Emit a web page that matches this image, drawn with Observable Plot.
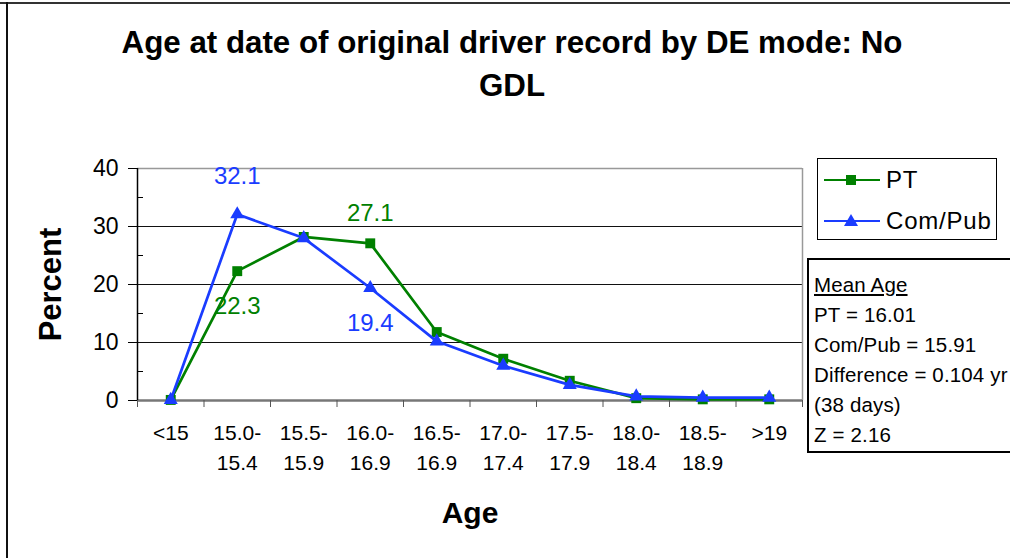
<!DOCTYPE html>
<html>
<head>
<meta charset="utf-8">
<script src="https://cdn.jsdelivr.net/npm/d3@7"></script>
<script src="https://cdn.jsdelivr.net/npm/@observablehq/plot@0.6"></script>
<style>
  html, body { margin: 0; padding: 0; background: #fff; }
  #wrap { position: relative; width: 1010px; height: 558px; overflow: hidden; font-family: "Liberation Sans", Arial, sans-serif; color: #000; }
  #frameTop { position: absolute; left: 0; top: 2px; width: 1010px; height: 0; border-top: 2px solid #333; }
  #frameLeft { position: absolute; left: 6px; top: 2px; width: 0; height: 560px; border-left: 2px solid #111; }
  #title { position: absolute; left: 0; top: 21px; width: 1024px; text-align: center; font-weight: bold; font-size: 31.3px; line-height: 43px; white-space: pre-line; }
  #chart { position: absolute; left: 0; top: 130px; }
  #legend { position: absolute; left: 817px; top: 158px; width: 178px; height: 80px; border: 1.5px solid #000; background: #fff; }
  .lrow { position: absolute; left: 6px; height: 30px; display: flex; align-items: center; font-size: 24px; letter-spacing: 0.8px; }
  .lrow svg { margin-right: 6px; }
  #meanbox { position: absolute; left: 807px; top: 258px; width: 230px; height: 195px; border: 2px solid #000; background: #fff; padding: 10px 0 0 5px; box-sizing: border-box; font-size: 20.5px; letter-spacing: 0.15px; line-height: 30px; white-space: nowrap; }
  #meanbox .u { text-decoration: underline; }
</style>
</head>
<body>
<div id="wrap">
  <div id="frameTop"></div>
  <div id="frameLeft"></div>
  <div id="title"></div>
  <div id="chart"></div>
  <div id="legend"></div>
  <div id="meanbox"></div>
</div>
<script>
// ---- data ----
const title = "Age at date of original driver record by DE mode: No\nGDL";
const categories = ["<15", "15.0-\n15.4", "15.5-\n15.9", "16.0-\n16.9", "16.5-\n16.9", "17.0-\n17.4", "17.5-\n17.9", "18.0-\n18.4", "18.5-\n18.9", ">19"];
const ptValues  = [0.1, 22.3, 28.2, 27.1, 11.8, 7.2, 3.4, 0.4, 0.2, 0.2];
const comValues = [0.1, 32.1, 28.0, 19.4, 10.2, 6.0, 2.7, 0.7, 0.5, 0.5];
const seriesNames = ["PT", "Com/Pub"];
const seriesColors = ["#008000", "#1a3cff"];
const yTicks = [0, 10, 20, 30, 40];
const yMinorTicks = [5, 15, 25, 35];
const gridValues = [10, 20, 30];
const yLabel = "Percent";
const xLabel = "Age";
const meanLines = ["Mean Age", "PT = 16.01", "Com/Pub = 15.91", "Difference = 0.104 yr", "(38 days)", "Z = 2.16"];

// ---- build ----
document.getElementById("title").textContent = title;

const idx = categories.map((d, i) => i);
const bounds = d3.range(categories.length + 1).map(i => i - 0.5);
const pt = idx.map(i => ({i, v: ptValues[i]}));
const com = idx.map(i => ({i, v: comValues[i]}));
const font = "'Liberation Sans', Arial, sans-serif";

const chart = Plot.plot({
  width: 1010,
  height: 428,
  marginLeft: 137,
  marginRight: 208,
  marginTop: 38,
  marginBottom: 158,
  style: {fontFamily: font, color: "#000", background: "transparent", overflow: "visible"},
  x: {domain: [bounds[0], bounds[bounds.length - 1]]},
  y: {domain: [yTicks[0], yTicks[yTicks.length - 1]]},
  marks: [
    Plot.ruleY(gridValues, {stroke: "#111", strokeWidth: 1}),
    Plot.ruleY([yTicks[yTicks.length - 1]], {stroke: "#999", strokeWidth: 1.5}),
    Plot.ruleX([bounds[bounds.length - 1]], {stroke: "#999", strokeWidth: 1.5}),
    Plot.ruleY([yTicks[0]], {stroke: "#777", strokeWidth: 2.5}),
    Plot.ruleX([bounds[0]], {stroke: "#000", strokeWidth: 1.5}),
    Plot.axisY(yTicks, {tickSize: 9, tickPadding: 10, fontSize: 23, label: null, stroke: "#000", fill: "#000"}),
    Plot.axisY(yMinorTicks, {tickSize: 6, dx: 6, fill: "none", label: null, stroke: "#000"}),
    Plot.axisX(bounds, {tickSize: 7, fill: "none", label: null, stroke: "#555"}),
    Plot.axisX(idx, {tickSize: 0, tickPadding: 18, fontSize: 21, lineHeight: 1.43, tickFormat: i => categories[i], label: null, fill: "#000"}),
    Plot.text([yLabel], {frameAnchor: "left", textAnchor: "middle", lineAnchor: "middle", dx: -86, rotate: -90, fontSize: 31, fontWeight: "bold", fill: "#000"}),
    Plot.text([xLabel], {frameAnchor: "bottom", textAnchor: "middle", lineAnchor: "middle", dy: 113, fontSize: 30, fontWeight: "bold", fill: "#000"}),
    Plot.line(pt, {x: "i", y: "v", stroke: seriesColors[0], strokeWidth: 2.7}),
    Plot.dot(pt, {x: "i", y: "v", symbol: "square", r: 5.6, fill: seriesColors[0], stroke: "none"}),
    Plot.line(com, {x: "i", y: "v", stroke: seriesColors[1], strokeWidth: 2.7}),
    Plot.dot(com, {x: "i", y: "v", symbol: "triangle", r: 5.2, fill: seriesColors[1], stroke: "none"}),
    Plot.text([com[1]], {x: "i", y: "v", text: d => d.v.toFixed(1), dy: -38, fontSize: 24, fill: seriesColors[1]}),
    Plot.text([pt[1]], {x: "i", y: "v", text: d => d.v.toFixed(1), dy: 35, fontSize: 24, fill: seriesColors[0]}),
    Plot.text([pt[3]], {x: "i", y: "v", text: d => d.v.toFixed(1), dy: -30, fontSize: 24, fill: seriesColors[0]}),
    Plot.text([com[3]], {x: "i", y: "v", text: d => d.v.toFixed(1), dy: 35, fontSize: 24, fill: seriesColors[1]})
  ]
});
document.getElementById("chart").appendChild(chart);

// legend
const legend = document.getElementById("legend");
seriesNames.forEach((name, k) => {
  const row = document.createElement("div");
  row.className = "lrow";
  row.style.top = (k === 0 ? 6 : 47) + "px";
  const marker = k === 0
    ? `<rect x="22" y="5" width="10" height="10" fill="${seriesColors[k]}"/>`
    : `<polygon points="27,3 34,15 20,15" fill="${seriesColors[k]}"/>`;
  row.innerHTML = `<svg width="56" height="20"><line x1="0" y1="10" x2="56" y2="10" stroke="${seriesColors[k]}" stroke-width="2"/>${marker}</svg><span>${name}</span>`;
  legend.appendChild(row);
});

// mean age box
const mb = document.getElementById("meanbox");
meanLines.forEach((t, k) => {
  const d = document.createElement("div");
  if (k === 0) { const s = document.createElement("span"); s.className = "u"; s.textContent = t; d.appendChild(s); }
  else d.textContent = t;
  mb.appendChild(d);
});
</script>
</body>
</html>
